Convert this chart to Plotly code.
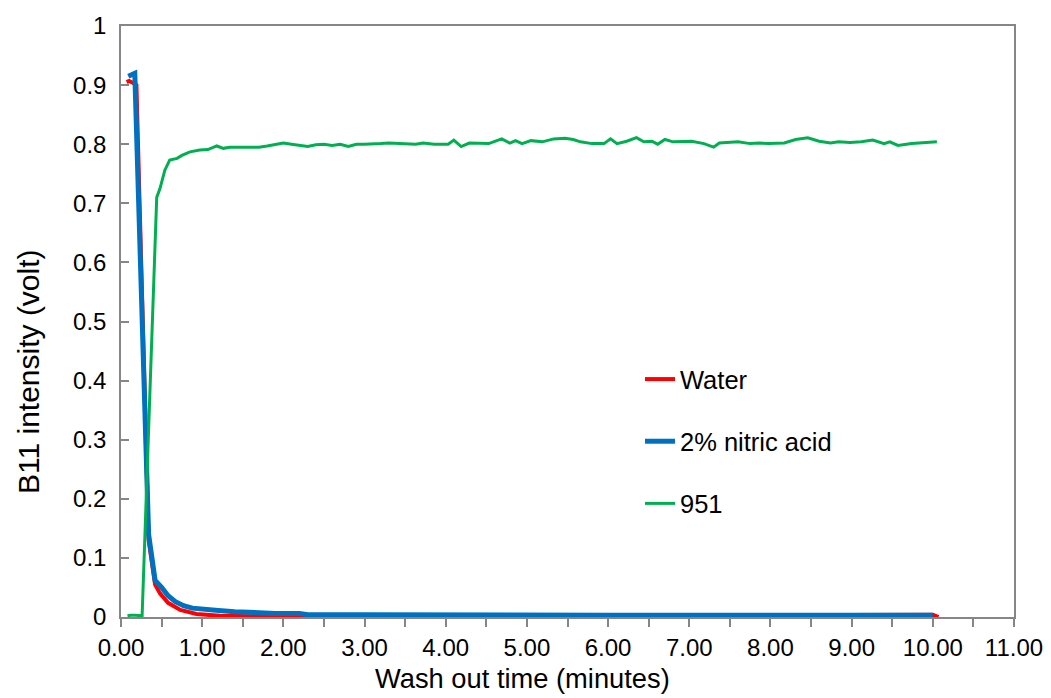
import plotly.graph_objects as go

# ---- data ----
water_x = [0.07, 0.10, 0.13, 0.19, 0.34, 0.42, 0.48, 0.58, 0.73, 0.93, 1.22, 1.60, 2.00, 3.00, 3.70,
           4.00, 5.00, 6.00, 7.00, 7.50, 8.00, 8.50, 9.00, 9.50, 10.00, 10.07]
water_y = [0.905, 0.907, 0.905, 0.900, 0.130, 0.055, 0.040, 0.024, 0.012, 0.005, 0.002, 0.001, 0.001, 0.001, 0.001,
           0.002, 0.002, 0.002, 0.002, 0.003, 0.003, 0.004, 0.004, 0.004, 0.004, 0.000]

nitric_x = [0.09, 0.17, 0.34, 0.42, 0.50, 0.58, 0.67, 0.77, 0.88, 1.00, 1.20, 1.40, 1.60, 1.90, 2.20,
            2.30, 3.00, 4.00, 5.00, 6.00, 7.00, 8.00, 9.00, 10.00]
nitric_y = [0.915, 0.920, 0.140, 0.062, 0.050, 0.036, 0.026, 0.019, 0.015, 0.013, 0.011, 0.009, 0.007, 0.006, 0.006,
            0.004, 0.004, 0.003, 0.003, 0.003, 0.003, 0.003, 0.003, 0.003]

std_x = [0.08, 0.12, 0.18, 0.26, 0.44, 0.48, 0.54, 0.60, 0.69, 0.75, 0.85, 0.97, 1.07, 1.18, 1.26, 1.34,
         1.50, 1.70, 1.80, 2.00, 2.10, 2.20, 2.30, 2.40, 2.50, 2.60, 2.70, 2.80, 2.90, 3.00, 3.10, 3.20, 3.30,
         3.44, 3.63, 3.72, 3.86, 4.03, 4.10, 4.19, 4.29, 4.53, 4.69, 4.79, 4.86, 4.94, 5.05, 5.19, 5.33,
         5.47, 5.57, 5.66, 5.80, 5.95, 6.03, 6.11, 6.23, 6.35, 6.44, 6.54, 6.61, 6.70, 6.80, 7.03, 7.18,
         7.30, 7.37, 7.60, 7.75, 7.86, 7.98, 8.17, 8.31, 8.46, 8.60, 8.74, 8.84, 8.98, 9.12, 9.26, 9.40,
         9.47, 9.57, 9.74, 9.88, 10.05]
std_y = [0.002, 0.003, 0.003, 0.002, 0.710, 0.725, 0.756, 0.773, 0.776, 0.781, 0.787, 0.790, 0.791, 0.797, 0.793, 0.795,
         0.795, 0.795, 0.797, 0.802, 0.800, 0.798, 0.796, 0.799, 0.800, 0.798, 0.800, 0.796, 0.800, 0.800, 0.800, 0.801, 0.802,
         0.801, 0.800, 0.802, 0.800, 0.800, 0.807, 0.796, 0.802, 0.801, 0.809, 0.802, 0.806, 0.801, 0.806, 0.804, 0.809,
         0.810, 0.808, 0.804, 0.801, 0.801, 0.809, 0.801, 0.805, 0.811, 0.804, 0.805, 0.800, 0.808, 0.804, 0.805, 0.801,
         0.795, 0.802, 0.804, 0.801, 0.802, 0.801, 0.802, 0.808, 0.811, 0.805, 0.802, 0.804, 0.803, 0.804, 0.807, 0.801,
         0.804, 0.798, 0.801, 0.802, 0.804]

x_ticks = [0, 1, 2, 3, 4, 5, 6, 7, 8, 9, 10, 11]
y_ticks = [0, 0.1, 0.2, 0.3, 0.4, 0.5, 0.6, 0.7, 0.8, 0.9, 1]

FONT = "Liberation Sans, Arial, sans-serif"
AXIS_GRAY = "#868686"

# page body adds an 8px margin; size the figure so that the plot lands where the reference has it
OFF = 8
W, H = 1051 - OFF, 698 - OFF
L, T, R, B = 121 - OFF, 26 - OFF, 37, 81
PW = W - L - R
PH = H - T - B

fig = go.Figure()
fig.add_trace(go.Scatter(x=water_x, y=water_y, mode="lines", name="Water",
                         line=dict(color="#FF0000", width=4), legendgroup="a"))
fig.add_trace(go.Scatter(x=nitric_x, y=nitric_y, mode="lines", name="2% nitric acid",
                         line=dict(color="#0070C0", width=5), legendgroup="b"))
fig.add_trace(go.Scatter(x=std_x, y=std_y, mode="lines", name="951",
                         line=dict(color="#00B050", width=3), legendgroup="c"))

fig.update_layout(
    width=W, height=H,
    margin=dict(l=L, r=R, t=T, b=B, autoexpand=False),
    paper_bgcolor="white", plot_bgcolor="white",
    font=dict(family=FONT, size=24, color="#000000"),
    showlegend=True,
    legend=dict(x=(640 - 121) / PW, y=(617 - 356) / PH, xanchor="left", yanchor="top",
                bgcolor="rgba(0,0,0,0)", font=dict(size=25.5),
                tracegroupgap=26),
    xaxis=dict(range=[0, 11], tickvals=x_ticks, tickformat=".2f", automargin=False,
               ticks="outside", ticklen=8, tickcolor=AXIS_GRAY, tickwidth=1.5,
               minor=dict(dtick=0.5, ticks="outside", ticklen=8, tickcolor=AXIS_GRAY, tickwidth=1.5),
               showline=True, linecolor=AXIS_GRAY, linewidth=1.5, mirror=True,
               showgrid=False, zeroline=False, tickfont=dict(size=24)),
    yaxis=dict(range=[0, 1], tickvals=y_ticks, automargin=False,
               ticks="inside", ticklen=8, tickcolor=AXIS_GRAY, tickwidth=1.5,
               showline=True, linecolor=AXIS_GRAY, linewidth=1.5, mirror=True,
               showgrid=False, zeroline=False, tickfont=dict(size=24),
               ticklabelstandoff=8),
    annotations=[
        dict(text="Wash out time (minutes)", xref="paper", yref="paper",
             x=(522 - 121) / PW, y=-(678 - 617) / PH, xanchor="center", yanchor="middle",
             showarrow=False, font=dict(size=27.3)),
        dict(text="B11 intensity (volt)", xref="paper", yref="paper",
             x=-(121 - 28) / PW, y=(617 - 372) / PH, xanchor="center", yanchor="middle",
             textangle=-90, showarrow=False, font=dict(size=30)),
    ],
)

fig.write_html("out.html")
